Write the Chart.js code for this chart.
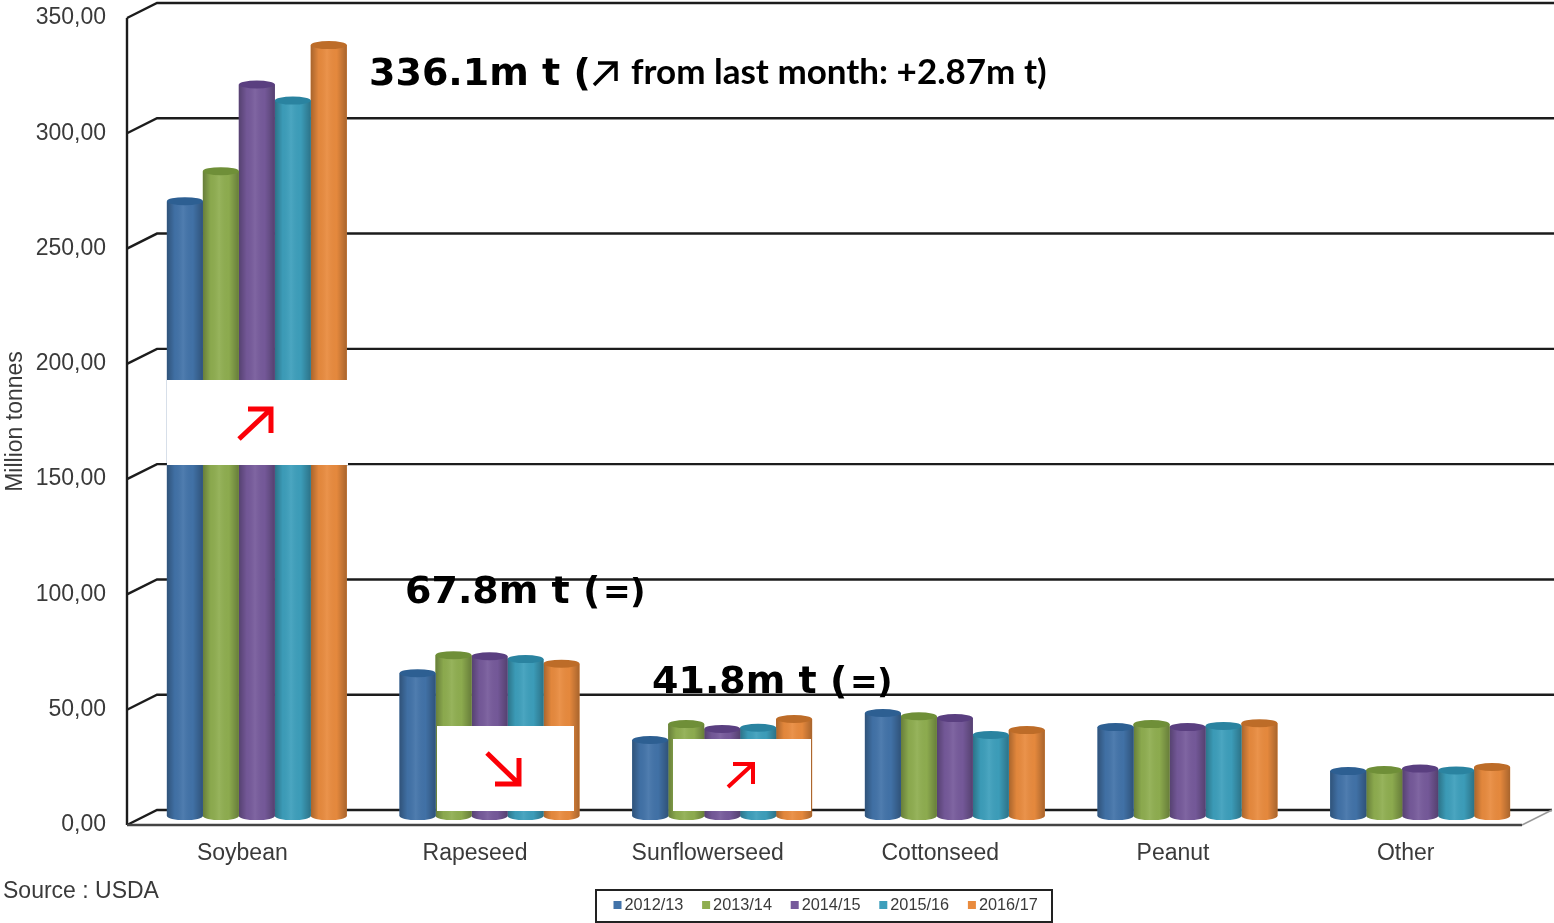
<!DOCTYPE html>
<html>
<head>
<meta charset="utf-8">
<title>Oilseed production</title>
<style>
  html, body { margin: 0; padding: 0; background: #fff; overflow: hidden; }
  canvas { display: block; }
</style>
<script src="https://cdn.jsdelivr.net/npm/chart.js@4/dist/chart.umd.min.js"></script>
</head>
<body>
<canvas id="myChart" width="1554" height="923"></canvas>
<script>
// values, million tonnes
const categories = ["Soybean", "Rapeseed", "Sunflowerseed", "Cottonseed", "Peanut", "Other"];
const seasons = ["2012/13", "2013/14", "2014/15", "2015/16", "2016/17"];
const values1213 = [268.4, 63.7, 34.7, 46.4, 40.3, 21.2];
const values1314 = [281.4, 71.5, 41.6, 45.0, 41.6, 21.7];
const values1415 = [319.0, 71.0, 39.5, 44.2, 40.3, 22.3];
const values1516 = [312.0, 69.8, 40.0, 36.9, 40.8, 21.5];
const values1617 = [336.1, 67.8, 43.8, 39.0, 42.0, 23.0];
const tickLabels = ["0,00", "50,00", "100,00", "150,00", "200,00", "250,00", "300,00", "350,00"];
const axisTitle = "Million tonnes";
const sourceText = "Source : USDA";

const colors = ["#4273a9", "#8fae50", "#765a9b", "#3d9fbc", "#e98b3e"];
const topColors = ["#2d5f92", "#6f8f38", "#5a3f80", "#2a83a0", "#bd6c28"];

const textColor = "#3a3a3a";
const lineColor = "#1c1c1c";
const depthX = 30, depthY = 15;   // back wall offset
const barX = 14.5, barY = 5;      // bars stand a bit behind the front edge
const capR = 4;                   // height of the cylinder ends

function barPath(ctx, x0, w, top, bottom, r) {
  ctx.beginPath();
  ctx.moveTo(x0, top);
  ctx.lineTo(x0, bottom);
  ctx.ellipse(x0 + w / 2, bottom, w / 2, r, 0, Math.PI, 0, true);
  ctx.lineTo(x0 + w, top);
  ctx.closePath();
}

const wallPlugin = {
  id: "wall",
  beforeDatasetsDraw(chart) {
    const ctx = chart.ctx, a = chart.chartArea, y = chart.scales.y;
    ctx.save();
    ctx.strokeStyle = lineColor;
    ctx.lineWidth = 2.4;
    y.ticks.forEach((t) => {
      const py = y.getPixelForValue(t.value);
      ctx.beginPath();
      ctx.moveTo(a.left + 1, py);
      ctx.lineTo(a.left + 1 + depthX, py - depthY);
      ctx.lineTo(t.value === 0 ? a.right + depthX : chart.width, py - depthY);
      ctx.stroke();
    });
    // front axis lines
    ctx.beginPath();
    ctx.moveTo(a.left + 1, a.top);
    ctx.lineTo(a.left + 1, a.bottom);
    ctx.stroke();
    ctx.strokeStyle = "#444";
    ctx.lineWidth = 2.5;
    ctx.beginPath();
    ctx.moveTo(a.left + 1, a.bottom);
    ctx.lineTo(a.right, a.bottom);
    ctx.stroke();
    ctx.strokeStyle = "#999";
    ctx.lineWidth = 1.5;
    ctx.beginPath();
    ctx.moveTo(a.right, a.bottom);
    ctx.lineTo(a.right + depthX, a.bottom - depthY);
    ctx.stroke();
    ctx.restore();

    // bars are drawn shifted onto their own plane, restored in afterDatasetsDraw
    ctx.save();
    ctx.translate(barX, -barY);
  },
  // shade each bar the library just drew into a cylinder
  afterDatasetDraw(chart, args) {
    const ctx = chart.ctx, i = args.index;
    args.meta.data.forEach((bar) => {
      const w = bar.width, x0 = bar.x - w / 2;
      const grad = ctx.createLinearGradient(x0, 0, x0 + w, 0);
      grad.addColorStop(0, "rgba(0,0,0,0.28)");
      grad.addColorStop(0.22, "rgba(0,0,0,0.03)");
      grad.addColorStop(0.45, "rgba(255,255,255,0.07)");
      grad.addColorStop(0.72, "rgba(0,0,0,0.02)");
      grad.addColorStop(1, "rgba(0,0,0,0.28)");
      barPath(ctx, x0, w, bar.y, bar.base, capR);
      ctx.fillStyle = colors[i];
      ctx.fill();
      ctx.fillStyle = grad;
      ctx.fill();
      ctx.beginPath();
      ctx.ellipse(bar.x, bar.y, w / 2, capR, 0, 0, Math.PI * 2);
      ctx.fillStyle = topColors[i];
      ctx.fill();
    });
  },
  afterDatasetsDraw(chart) {
    chart.ctx.restore();
  },
};

function strokeArrow(ctx, color, tail, tip, c1, c2, lw) {
  ctx.strokeStyle = color;
  ctx.lineWidth = lw;
  ctx.lineCap = "butt";
  ctx.lineJoin = "miter";
  ctx.beginPath();
  ctx.moveTo(tail[0], tail[1]);
  ctx.lineTo(tip[0], tip[1]);
  ctx.moveTo(c1[0], c1[1]);
  ctx.lineTo(tip[0], tip[1]);
  ctx.lineTo(c2[0], c2[1]);
  ctx.stroke();
}

const notesPlugin = {
  id: "notes",
  afterDraw(chart) {
    const ctx = chart.ctx;
    ctx.save();

    // white cover boxes with the trend arrows
    ctx.fillStyle = "#fff";
    ctx.fillRect(167, 380, 181, 85);
    ctx.fillRect(437, 726, 137, 85);
    ctx.fillRect(673, 739, 138, 72);
    strokeArrow(ctx, "#fb0007", [239, 439], [271, 409], [248, 409], [271, 433], 5);
    strokeArrow(ctx, "#fb0007", [487, 753], [519, 784], [519, 758], [495, 784], 5);
    strokeArrow(ctx, "#fb0007", [728, 787], [753, 764], [733, 764], [753, 784], 4);
    strokeArrow(ctx, "#000", [594, 85], [616, 63], [598, 63], [616, 81], 3.5);

    const big = "bold 38px 'DejaVu Sans'";
    ctx.fillStyle = "#000";
    ctx.textBaseline = "alphabetic";
    ctx.textAlign = "left";

    ctx.font = big;
    ctx.fillText("336.1m t (", 369, 85);
    ctx.font = "bold 35px Lato";
    ctx.fillText("from last month: +2.87m t)", 631, 84, 416);

    ctx.font = big;
    ctx.fillText("67.8m t (", 405, 603);
    ctx.fillText("41.8m t (", 652, 693);
    ctx.font = "bold 33px 'DejaVu Sans'";
    ctx.fillText("=", 603, 603);
    ctx.fillText("=", 850, 693);
    ctx.font = "bold 34px 'DejaVu Sans'";
    ctx.fillText(")", 630, 603);
    ctx.fillText(")", 877, 693);

    // source line
    ctx.font = "23px 'Liberation Sans'";
    ctx.fillStyle = textColor;
    ctx.fillText(sourceText, 3, 898);

    // legend
    ctx.strokeStyle = "#222";
    ctx.lineWidth = 2;
    ctx.strokeRect(596, 890, 456, 32);
    ctx.font = "16.3px 'Liberation Sans'";
    ctx.textBaseline = "middle";
    chart.data.datasets.forEach((ds, i) => {
      const lx = 613.5 + i * 88.6;
      ctx.fillStyle = ds.backgroundColor;
      ctx.fillRect(lx, 901, 8, 8);
      ctx.fillStyle = textColor;
      ctx.fillText(ds.label, lx + 11, 905.5);
    });
    ctx.restore();
  },
};

const ctx = document.getElementById("myChart");
const seriesValues = [values1213, values1314, values1415, values1516, values1617];

new Chart(ctx, {
  type: "bar",
  data: {
    labels: categories,
    datasets: seasons.map((s, i) => ({
      label: s,
      data: seriesValues[i],
      backgroundColor: colors[i],
      base: 1.7, // leaves room for the rounded foot of the cylinder
      clip: false,
    })),
  },
  options: {
    responsive: false,
    animation: false,
    layout: { padding: { top: 18, right: 32, left: 0, bottom: 0 } },
    categoryPercentage: 0.773,
    barPercentage: 1,
    plugins: {
      legend: { display: false },
      tooltip: { enabled: false },
    },
    scales: {
      x: {
        grid: { display: false, drawTicks: false },
        border: { display: false },
        ticks: {
          color: textColor,
          font: { family: "Liberation Sans", size: 23 },
          padding: 15,
          maxRotation: 0,
        },
        afterFit(scale) {
          scale.height = 98;
        },
      },
      y: {
        min: 0,
        max: 350,
        grid: { display: false, drawTicks: false },
        border: { display: false },
        title: {
          display: true,
          text: axisTitle,
          color: textColor,
          font: { family: "Liberation Sans", size: 23 },
          padding: { top: 2, bottom: 0 },
        },
        ticks: {
          stepSize: 50,
          color: textColor,
          font: { family: "Liberation Sans", size: 23 },
          padding: 20,
          callback: (v, i) => tickLabels[i],
        },
        afterFit(scale) {
          scale.width = 126;
          scale.paddingTop = 0;
          scale.paddingBottom = 0;
        },
      },
    },
  },
  plugins: [wallPlugin, notesPlugin],
});
</script>
</body>
</html>
